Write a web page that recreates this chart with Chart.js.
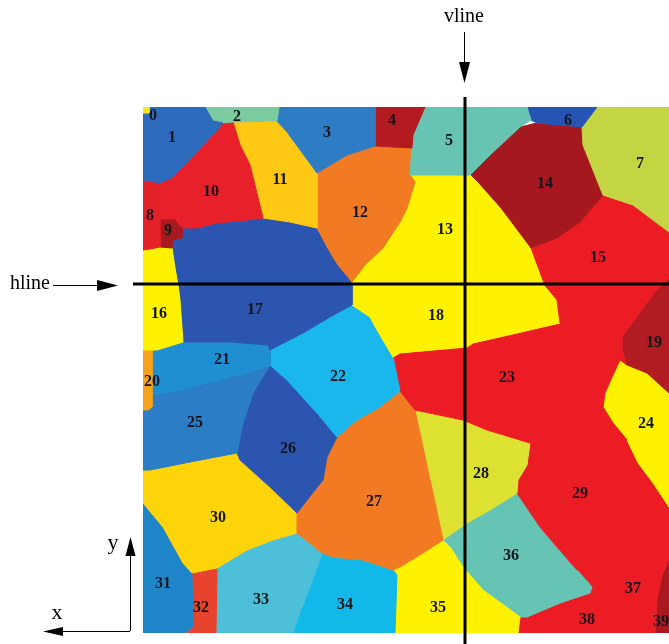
<!DOCTYPE html>
<html>
<head>
<meta charset="utf-8">
<script src="https://cdn.jsdelivr.net/npm/chart.js@4.4.1/dist/chart.umd.min.js"></script>
<style>
  html, body { margin: 0; padding: 0; background: #ffffff; }
  #wrap { width: 669px; height: 644px; position: relative; }
</style>
</head>
<body>
<div id="wrap"><canvas id="grainMap"></canvas></div>
<script>
// Grain map in map units (x to the right, y downward from the top-left corner of the map).
const mapWidth = 526;
const mapHeight = 526;

const grainIds = [0,1,2,3,4,5,6,7,8,9,10,11,12,13,14,15,16,17,18,19,
                  20,21,22,23,24,25,26,27,28,29,30,31,32,33,34,35,36,37,38,39];

const grainColors = [
  '#f9e81e','#2d6bbd','#7ccaa0','#2e7cc4','#b31b20','#68c4b2','#2554b4','#c4d544',
  '#e42128','#a81a1f','#e8202a','#ffc814','#f27a22','#fff200','#a5181d','#ec1c24',
  '#fff200','#2b55ae','#fff200','#b01c22','#f7a21c','#1f8fd2','#19b7eb','#ec1c24',
  '#fff200','#2b7dc5','#2b55ae','#f27a22','#dde232','#ec1c24','#ffd40a','#1f85c9',
  '#e8432c','#4dbfd9','#12b9e8','#fff200','#66c4b5','#ec1c24','#ec1c24','#a8181e'
];

// Boundary vertices of each grain, as flat x,y pairs.
const grainOutlines = [
  [0,0, 6,0, 6,6, 0,6],
  [0,0, 62,0, 70,14, 80,16, 67,31, 44,55, 30,70, 17,76, 0,73],
  [62,0, 136,0, 134,14, 90,15, 80,16, 70,14],
  [136,0, 232,0, 232,39, 204,48, 174,66, 144,25, 134,14],
  [232,0, 282,0, 270,28, 269,41, 232,39],
  [282,0, 384,0, 388,13, 377,20, 347,48, 327,68, 267,68, 269,41, 270,28],
  [384,0, 454,0, 439,20, 417,18, 394,16, 388,13],
  [454,0, 526,0, 526,125, 490,98, 460,88, 440,38, 439,20],
  [0,73, 17,76, 17,113, 17,140, 7,142, 0,143],
  [17,113, 32,113, 39,121, 39,131, 30,133, 29,141, 17,140],
  [80,16, 90,15, 97,38, 107,58, 120,111, 104,113, 74,116, 54,121, 39,121, 32,113, 17,113, 17,76, 30,70, 44,55, 67,31],
  [90,15, 134,14, 144,25, 174,66, 174,121, 147,115, 120,111, 107,58, 97,38],
  [204,48, 232,39, 269,41, 267,68, 272,75, 264,101, 257,115, 240,141, 222,158, 209,175, 195,158, 187,145, 174,121, 174,66],
  [267,68, 327,68, 334,75, 357,101, 387,141, 400,176, 209,176, 209,175, 222,158, 240,141, 257,115, 264,101, 272,75],
  [327,68, 347,48, 377,20, 394,16, 417,18, 439,20, 440,38, 460,88, 437,115, 414,131, 387,141, 357,101, 334,75],
  [387,141, 414,131, 437,115, 460,88, 490,98, 526,125, 526,171, 514,183, 457,193, 417,216, 414,193, 400,176],
  [0,143, 7,142, 17,140, 29,141, 32,161, 35,178, 37,193, 40,235, 14,243, 0,243],
  [29,141, 30,133, 39,131, 39,121, 54,121, 74,116, 104,113, 120,111, 147,115, 174,121, 187,145, 195,158, 209,175, 209,198, 187,210, 160,226, 127,243, 125,238, 87,235, 40,235, 37,193, 35,178, 32,161],
  [209,176, 400,176, 414,193, 417,216, 374,226, 330,236, 324,240, 257,246, 250,250, 234,223, 227,210, 209,198],
  [526,171, 526,286, 504,266, 484,258, 480,243, 480,230, 514,183],
  [0,243, 9,243, 9,300, 5,303, 0,303],
  [9,243, 14,243, 40,235, 87,235, 125,238, 127,243, 127,258, 120,261, 87,270, 37,283, 9,288],
  [127,243, 160,226, 187,210, 209,198, 227,210, 234,223, 250,250, 257,284, 237,300, 214,313, 194,330, 174,306, 144,273, 127,258],
  [250,250, 257,246, 324,240, 330,236, 374,226, 417,216, 457,193, 514,183, 480,230, 480,243, 484,258, 477,253, 469,270, 462,286, 460,300, 470,316, 484,333, 387,336, 344,323, 320,313, 272,303, 257,284],
  [477,253, 484,258, 504,266, 526,286, 526,400, 510,376, 495,356, 484,333, 470,316, 460,300, 462,286, 469,270],
  [9,288, 37,283, 87,270, 120,261, 127,258, 110,286, 100,316, 94,346, 47,355, 7,363, 0,363, 0,303, 5,303, 9,300],
  [127,258, 144,273, 174,306, 194,330, 184,350, 180,373, 172,383, 154,406, 127,380, 97,353, 94,346, 100,316, 110,286],
  [194,330, 214,313, 237,300, 257,284, 272,303, 280,340, 287,373, 290,386, 300,433, 280,446, 257,460, 250,463, 220,453, 190,450, 179,446, 154,426, 154,406, 172,383, 180,373, 184,350],
  [272,303, 320,313, 344,323, 387,336, 384,358, 375,373, 374,386, 347,403, 324,416, 300,433, 290,386, 287,373, 280,340],
  [387,336, 484,333, 495,356, 510,376, 526,400, 526,433, 457,453, 434,463, 414,440, 397,420, 374,386, 375,373, 384,358],
  [0,363, 7,363, 47,355, 94,346, 97,353, 127,380, 154,406, 154,426, 130,433, 104,443, 74,461, 49,466, 40,456, 20,420, 0,396],
  [0,396, 20,420, 40,456, 49,466, 50,520, 42,526, 0,526],
  [49,466, 74,461, 73,526, 42,526, 50,520],
  [74,461, 104,443, 130,433, 154,426, 179,446, 167,480, 154,513, 150,526, 73,526],
  [179,446, 190,450, 220,453, 250,463, 254,468, 252,526, 150,526, 154,513, 167,480],
  [250,463, 257,460, 280,446, 300,433, 307,440, 320,460, 340,483, 377,510, 375,526, 252,526, 254,468],
  [300,433, 324,416, 347,403, 374,386, 397,420, 414,440, 434,463, 449,480, 447,486, 417,496, 384,510, 377,510, 340,483, 320,460, 307,440],
  [434,463, 457,453, 526,433, 526,453, 519,468, 514,493, 497,503, 457,503, 447,486, 449,480],
  [447,486, 457,503, 497,503, 514,493, 512,526, 375,526, 377,510, 384,510, 417,496],
  [526,453, 526,526, 512,526, 514,493, 519,468]
];

// Where each grain number is written.
const labelX = [10,29,94,184,249,306,425,497,7,25,68,137,217,302,402,455,16,112,293,511,
                9,79,195,364,503,52,145,231,338,437,75,20,58,118,202,295,368,490,444,518];
const labelY = [8,30,9,25,13,33,13,56,108,123,84,72,105,122,76,150,206,202,208,235,
                274,252,269,270,316,315,341,394,366,386,410,476,500,492,497,500,448,481,512,514];

// Section lines through the map.
const vlineX = 322;
const hlineY = 177;

function toPoints(flat) {
  const pts = [];
  for (let k = 0; k < flat.length; k += 2) pts.push({ x: flat[k], y: flat[k + 1] });
  pts.push({ x: flat[0], y: flat[1] });
  return pts;
}

const datasets = grainOutlines.map((flat, i) => ({
  label: 'grain ' + grainIds[i],
  data: toPoints(flat),
  showLine: true,
  fill: 'shape',
  backgroundColor: grainColors[i],
  borderColor: grainColors[i],
  borderWidth: 1,
  pointRadius: 0,
  pointHoverRadius: 0,
  tension: 0
}));

function arrowHead(ctx, tipX, tipY, dirX, dirY, len, half) {
  const bx = tipX - dirX * len, by = tipY - dirY * len;
  const px = -dirY, py = dirX;
  ctx.beginPath();
  ctx.moveTo(tipX, tipY);
  ctx.lineTo(bx + px * half, by + py * half);
  ctx.lineTo(bx - px * half, by - py * half);
  ctx.closePath();
  ctx.fill();
}

const overlay = {
  id: 'overlay',
  afterDatasetsDraw(chart) {
    const { ctx, chartArea } = chart;
    const xs = chart.scales.x, ys = chart.scales.y;
    ctx.save();

    // grain numbers
    ctx.font = 'bold 16px "Liberation Serif", "Times New Roman", serif';
    ctx.fillStyle = '#14141c';
    ctx.textAlign = 'center';
    ctx.textBaseline = 'middle';
    grainIds.forEach((id, i) => {
      ctx.fillText(String(id), xs.getPixelForValue(labelX[i]), ys.getPixelForValue(labelY[i]) + 1);
    });

    // section lines
    const vx = xs.getPixelForValue(vlineX);
    const hy = ys.getPixelForValue(hlineY);
    ctx.strokeStyle = '#000';
    ctx.lineWidth = 3;
    ctx.beginPath();
    ctx.moveTo(vx, chartArea.top - 10);
    ctx.lineTo(vx, chart.height);
    ctx.stroke();
    ctx.beginPath();
    ctx.moveTo(chartArea.left - 10, hy);
    ctx.lineTo(chartArea.right, hy);
    ctx.stroke();

    // pointer arrows with their names
    ctx.fillStyle = '#000';
    ctx.lineWidth = 1;
    const ax = vx - 1;
    ctx.beginPath();
    ctx.moveTo(ax + 0.5, chartArea.top - 75);
    ctx.lineTo(ax + 0.5, chartArea.top - 35);
    ctx.stroke();
    arrowHead(ctx, ax + 0.5, chartArea.top - 24, 0, 1, 21, 5.5);

    const ay = hy + 1;
    ctx.beginPath();
    ctx.moveTo(chartArea.left - 90, ay + 0.5);
    ctx.lineTo(chartArea.left - 35, ay + 0.5);
    ctx.stroke();
    arrowHead(ctx, chartArea.left - 25, ay + 0.5, 1, 0, 21, 5.5);

    ctx.font = '20px "Liberation Serif", "Times New Roman", serif';
    ctx.textAlign = 'center';
    ctx.textBaseline = 'middle';
    ctx.fillText('vline', ax, chartArea.top - 90);
    ctx.fillText('hline', 30, hy);

    // reference frame in the lower-left corner
    const ox = chartArea.left - 13, oy = chartArea.bottom - 2;
    ctx.beginPath();
    ctx.moveTo(ox + 0.5, oy);
    ctx.lineTo(ox + 0.5, oy - 80);
    ctx.stroke();
    arrowHead(ctx, ox + 0.5, oy - 94, 0, -1, 19, 5);
    ctx.beginPath();
    ctx.moveTo(ox, oy + 0.5);
    ctx.lineTo(ox - 70, oy + 0.5);
    ctx.stroke();
    arrowHead(ctx, ox - 87, oy + 0.5, -1, 0, 20, 4.5);

    ctx.font = '22px "Liberation Serif", "Times New Roman", serif';
    ctx.fillText('y', ox - 17, oy - 88);
    ctx.fillText('x', ox - 73, oy - 18);

    ctx.restore();
  }
};

new Chart(document.getElementById('grainMap'), {
  type: 'scatter',
  data: { datasets },
  options: {
    responsive: true,
    maintainAspectRatio: false,
    animation: false,
    events: [],
    layout: { padding: { left: 143, top: 107, right: 0, bottom: 11 } },
    scales: {
      x: { type: 'linear', min: 0, max: mapWidth, display: false },
      y: { type: 'linear', min: 0, max: mapHeight, reverse: true, display: false }
    },
    plugins: {
      legend: { display: false },
      tooltip: { enabled: false }
    }
  },
  plugins: [overlay]
});
</script>
</body>
</html>
